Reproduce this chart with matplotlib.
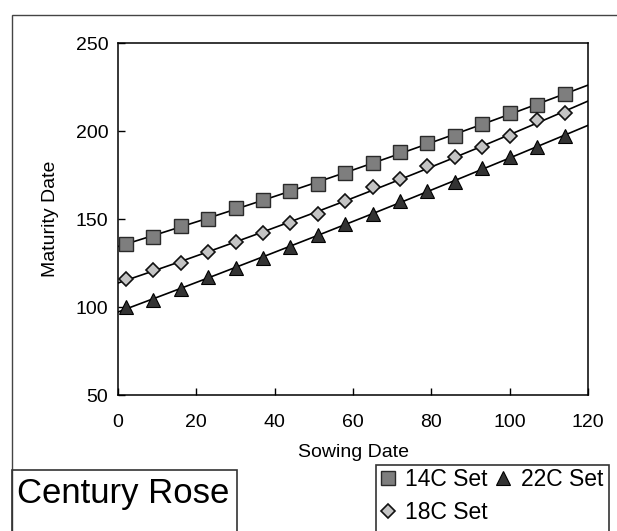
import numpy as np
import matplotlib
matplotlib.use("Agg")
import matplotlib.pyplot as plt
from matplotlib.patches import Rectangle

plt.rcParams['font.family'] = ['Liberation Sans', 'DejaVu Sans']

# Sowing dates (days) and maturity dates
sowing = [2, 9, 16, 23, 30, 37, 44, 51, 58, 65, 72, 79, 86, 93, 100, 107, 114]
set_14c = [136, 140, 146, 150, 156, 161, 166, 170, 176, 182, 188, 193, 197, 204, 210, 215, 221]
set_18c = [116, 121, 125, 131, 137, 142, 148, 153, 160, 168, 173, 180, 185, 191, 197, 206, 210]
set_22c = [100, 104, 110, 117, 122, 128, 134, 141, 147, 153, 160, 166, 171, 179, 185, 191, 197]

x_ticks = [0, 20, 40, 60, 80, 100, 120]
y_ticks = [50, 100, 150, 200, 250]

W, H = 617, 531
fig = plt.figure(figsize=(W / 100, H / 100), dpi=100)
ax = fig.add_axes([118 / W, 1 - 395 / H, (588 - 118) / W, (395 - 43) / H])

styles = [
    ("14C Set", set_14c, dict(marker="s", ms=10.5, mfc="#7e7e7e", mec="#2a2a2a", mew=1.0)),
    ("18C Set", set_18c, dict(marker="D", ms=7.0, mfc="#c4c4c4", mec="#111111", mew=1.2)),
    ("22C Set", set_22c, dict(marker="^", ms=10.0, mfc="#333333", mec="#000000", mew=0.8)),
]

xs = np.asarray(sowing, dtype=float)
xfit = np.linspace(0, 120, 200)
handles = []
for label, ys, st in styles:
    # smooth fitted line through each set, running across the full axis
    coef = np.polyfit(xs, np.asarray(ys, dtype=float), 2)
    ax.plot(xfit, np.polyval(coef, xfit), color="black", lw=1.2, zorder=2)
    h, = ax.plot(sowing, ys, linestyle="none", label=label, zorder=3, **st)
    handles.append(h)

ax.set_xlim(0, 120)
ax.set_ylim(50, 250)
ax.set_xticks(x_ticks)
ax.set_yticks(y_ticks)
ax.tick_params(direction="in", length=5, width=1, labelsize=14)
ax.tick_params(axis="y", pad=7)
ax.tick_params(axis="x", pad=14)
for s in ax.spines.values():
    s.set_linewidth(1.1)

ax.set_xlabel("Sowing Date", fontsize=14, labelpad=9)
ax.set_ylabel("Maturity Date", fontsize=14, labelpad=12)

# outer frame (runs off the right and bottom of the picture)
fig.add_artist(Rectangle((12 / W, -0.2), 2, 1.2 - 15 / H, transform=fig.transFigure,
                         fill=False, lw=1.0, ec="#444444"))
# title box
fig.add_artist(Rectangle((12 / W, -0.2), (237 - 12) / W, 0.2 + 1 - 470 / H,
                         transform=fig.transFigure, fill=False, lw=1.2, ec="#333333"))
fig.text(17 / W, 1 - 503 / H, "Century Rose", fontsize=25, va="baseline", ha="left")
# legend box
fig.add_artist(Rectangle((376 / W, -0.2), (609 - 376) / W, 0.2 + 1 - 465 / H,
                         transform=fig.transFigure, fill=False, lw=1.2, ec="#333333"))

fig.legend(handles=handles, ncol=2, loc="upper left",
           bbox_to_anchor=(380 / W, 1 - 468 / H), frameon=False, fontsize=16.5,
           handlelength=0.7, handletextpad=0.4, columnspacing=0.33,
           labelspacing=0.45, borderpad=0, borderaxespad=0)

fig.savefig("out.png", dpi=100)
